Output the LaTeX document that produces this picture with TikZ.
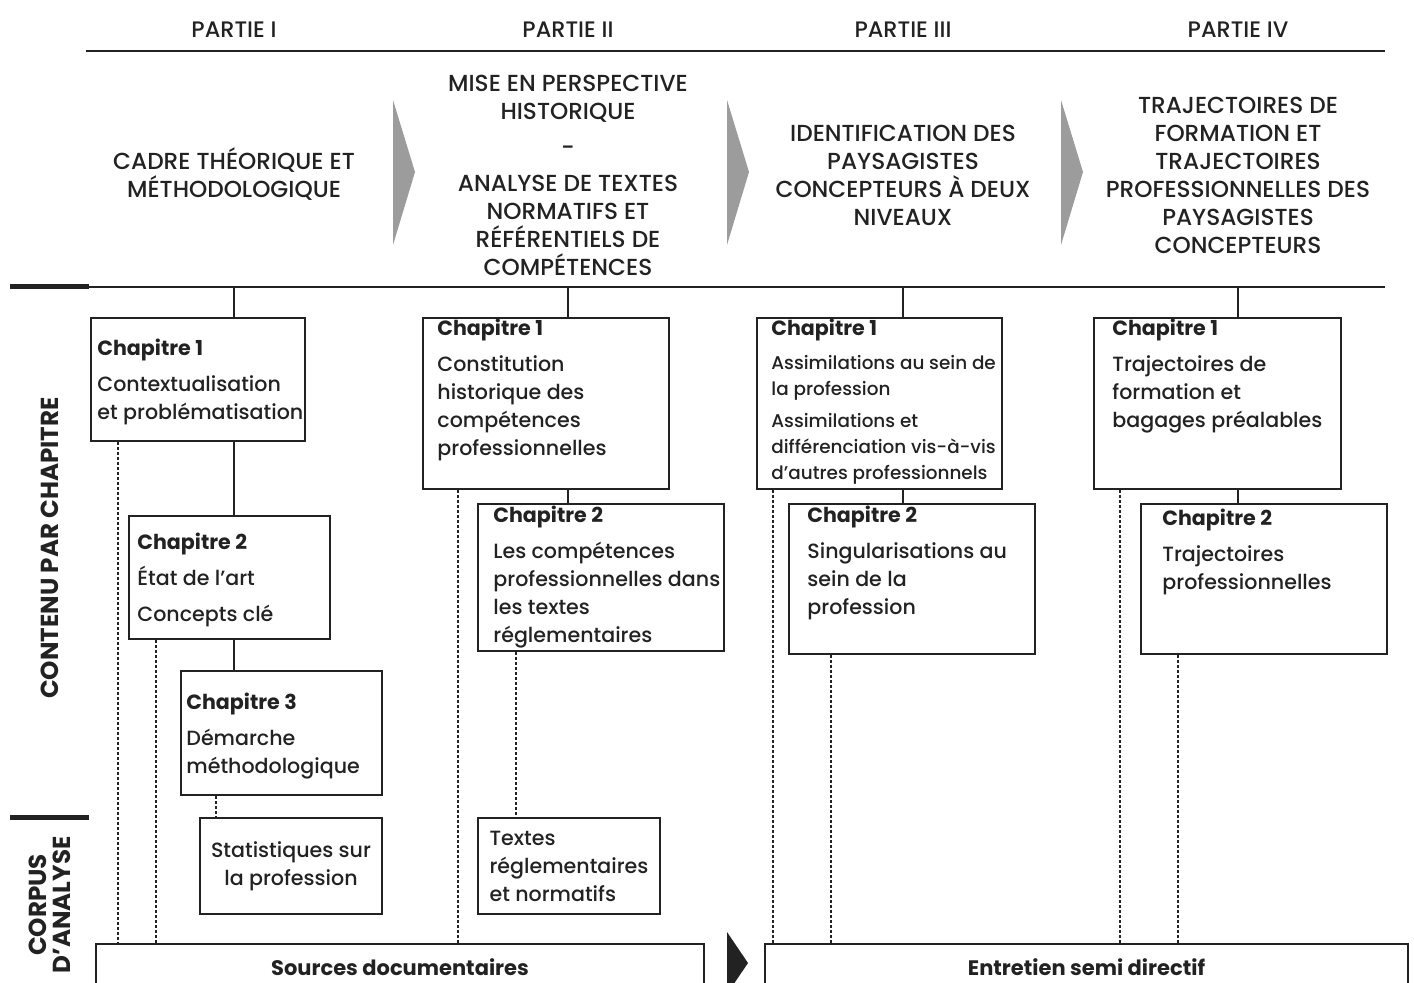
\documentclass[tikz,border=0pt]{standalone}
\usepackage{fontspec}
\setmainfont{Poppins}[UprightFont={Poppins Medium},BoldFont={Poppins Bold}]
\usetikzlibrary{positioning}

\definecolor{chevron}{HTML}{9C9C9C}
\definecolor{ink}{HTML}{222222}

\begin{document}
\begin{tikzpicture}[x=0.5pt,y=-0.5pt,
  every node/.style={text=ink,inner sep=0pt},
  partie/.style={font=\fontsize{11.6}{14}\selectfont,align=center},
  chapbox/.style 2 args={draw=ink,line width=1pt,anchor=north west,
    minimum width=#1*0.5pt,minimum height=#2*0.5pt},
  chaptxt/.style={anchor=north west,align=left,font=\fontsize{10.3}{14}\selectfont},
  rubrique/.style={font=\bfseries\fontsize{12.3}{12}\selectfont,rotate=90,align=center},
  stem/.style={draw=ink,line width=1pt},
  dotline/.style={draw=ink,line width=1pt,dash pattern=on 1.5pt off 1pt},
  heavy/.style={draw=ink,line width=2.5pt}]
\clip (0,0) rectangle (1414,983);

% en-tetes des parties
\foreach \n/\x/\t in {1/234/PARTIE I,2/568/PARTIE II,3/903/PARTIE III,4/1238/PARTIE IV}
  \node[partie,font=\fontsize{11.2}{14}\selectfont] (hd\n) at (\x,30) {\t};
\draw[stem] (86,51) -- (1385,51);

\node[partie] (hb1) at (234,174) {CADRE THÉORIQUE ET\\MÉTHODOLOGIQUE};
\node[partie] (hb2) at (568,175) {MISE EN PERSPECTIVE\\HISTORIQUE\\[4pt]-\\[4pt]ANALYSE DE TEXTES\\NORMATIFS ET\\RÉFÉRENTIELS DE\\COMPÉTENCES};
\node[partie] (hb3) at (903,175) {IDENTIFICATION DES\\PAYSAGISTES\\CONCEPTEURS À DEUX\\NIVEAUX};
\node[partie] (hb4) at (1238,175) {TRAJECTOIRES DE\\FORMATION ET\\TRAJECTOIRES\\PROFESSIONNELLES DES\\PAYSAGISTES\\CONCEPTEURS};

\foreach \cx in {393,727,1061}
  \fill[chevron] (\cx,100) -- (\cx+22,172) -- (\cx,245) -- cycle;

\coordinate (rule) at (86,287);
\draw[stem] (rule) -- (1385,287);
\draw[heavy] (10,287) -- (89,287);
\draw[heavy] (10,817) -- (89,817);

\node[rubrique] (contenu) at (50,548) {CONTENU PAR CHAPITRE};
\node[rubrique] (corpus) at (50,905) {CORPUS\\D'ANALYSE};

% partie I
\node[chapbox={214}{123}] (p1c1) at (90,317) {};
\node[chaptxt] (t11) at (97,339) {\textbf{Chapitre 1}\\[4pt]Contextualisation\\et problématisation};
\node[chapbox={201}{123}] (p1c2) at (128,515) {};
\node[chaptxt] (t12) at (137,533) {\textbf{Chapitre 2}\\[4pt]État de l'art\\[4pt]Concepts clé};
\node[chapbox={201}{124}] (p1c3) at (180,670) {};
\node[chaptxt] (t13) at (186,693) {\textbf{Chapitre 3}\\[4pt]Démarche\\méthodologique};
\node[chapbox={182}{96},align=center,font=\fontsize{10.3}{14}\selectfont] (stat) at (199,817) {Statistiques sur\\la profession};

% partie II
\node[chapbox={246}{171}] (p2c1) at (422,317) {};
\node[chaptxt] (t21) at (437,319) {\textbf{Chapitre 1}\\[4pt]Constitution\\historique des\\compétences\\professionnelles};
\node[chapbox={246}{147}] (p2c2) at (477,503) {};
\node[chaptxt] (t22) at (493,506) {\textbf{Chapitre 2}\\[4pt]Les compétences\\professionnelles dans\\les textes\\réglementaires};
\node[chapbox={182}{96},align=left,font=\fontsize{10.3}{14}\selectfont] (texte) at (477,817) {Textes\\réglementaires\\et normatifs};

% partie III
\node[chapbox={245}{171}] (p3c1) at (756,317) {};
\node[chaptxt,font=\fontsize{9.2}{13}\selectfont] (t31) at (771,319) {\textbf{\fontsize{10.3}{14}\selectfont Chapitre 1}\\[4pt]Assimilations au sein de\\la profession\\[3pt]Assimilations et\\différenciation vis-à-vis\\d'autres professionnels};
\node[chapbox={246}{150}] (p3c2) at (788,503) {};
\node[chaptxt] (t32) at (807,506) {\textbf{Chapitre 2}\\[4pt]Singularisations au\\sein de la\\profession};

% partie IV
\node[chapbox={247}{171}] (p4c1) at (1093,317) {};
\node[chaptxt] (t41) at (1112,319) {\textbf{Chapitre 1}\\[4pt]Trajectoires de\\formation et\\bagages préalables};
\node[chapbox={246}{150}] (p4c2) at (1140,503) {};
\node[chaptxt] (t42) at (1162,509) {\textbf{Chapitre 2}\\[4pt]Trajectoires\\professionnelles};

% corpus
\node[chapbox={608}{46},font=\bfseries\fontsize{10.5}{14}\selectfont] (src) at (95,943) {Sources documentaires};
\node[chapbox={643}{46},font=\bfseries\fontsize{10.5}{14}\selectfont] (ent) at (764,943) {Entretien semi directif};
\fill[ink] (727,932) -- (748,963) -- (727,994) -- cycle;

% liaisons
\foreach \h/\b in {hd1/p1c1,hd2/p2c1,hd3/p3c1,hd4/p4c1}
  \draw[stem] (\h |- rule) -- (\h |- \b.north);
\foreach \h/\a/\b in {hd1/p1c1/p1c2,hd1/p1c2/p1c3,hd2/p2c1/p2c2,hd3/p3c1/p3c2,hd4/p4c1/p4c2}
  \draw[stem] (\h |- \a.south) -- (\h |- \b.north);
\foreach \dx/\a/\b in {118/p1c1/src,156/p1c2/src,216/p1c3/stat,458/p2c1/src,516/p2c2/texte,
                       773/p3c1/ent,831/p3c2/ent,1120/p4c1/ent,1178/p4c2/ent}
{ \coordinate (dd) at (\dx,0);
  \draw[dotline] (dd |- \a.south) -- (dd |- \b.north); }
\end{tikzpicture}
\end{document}
